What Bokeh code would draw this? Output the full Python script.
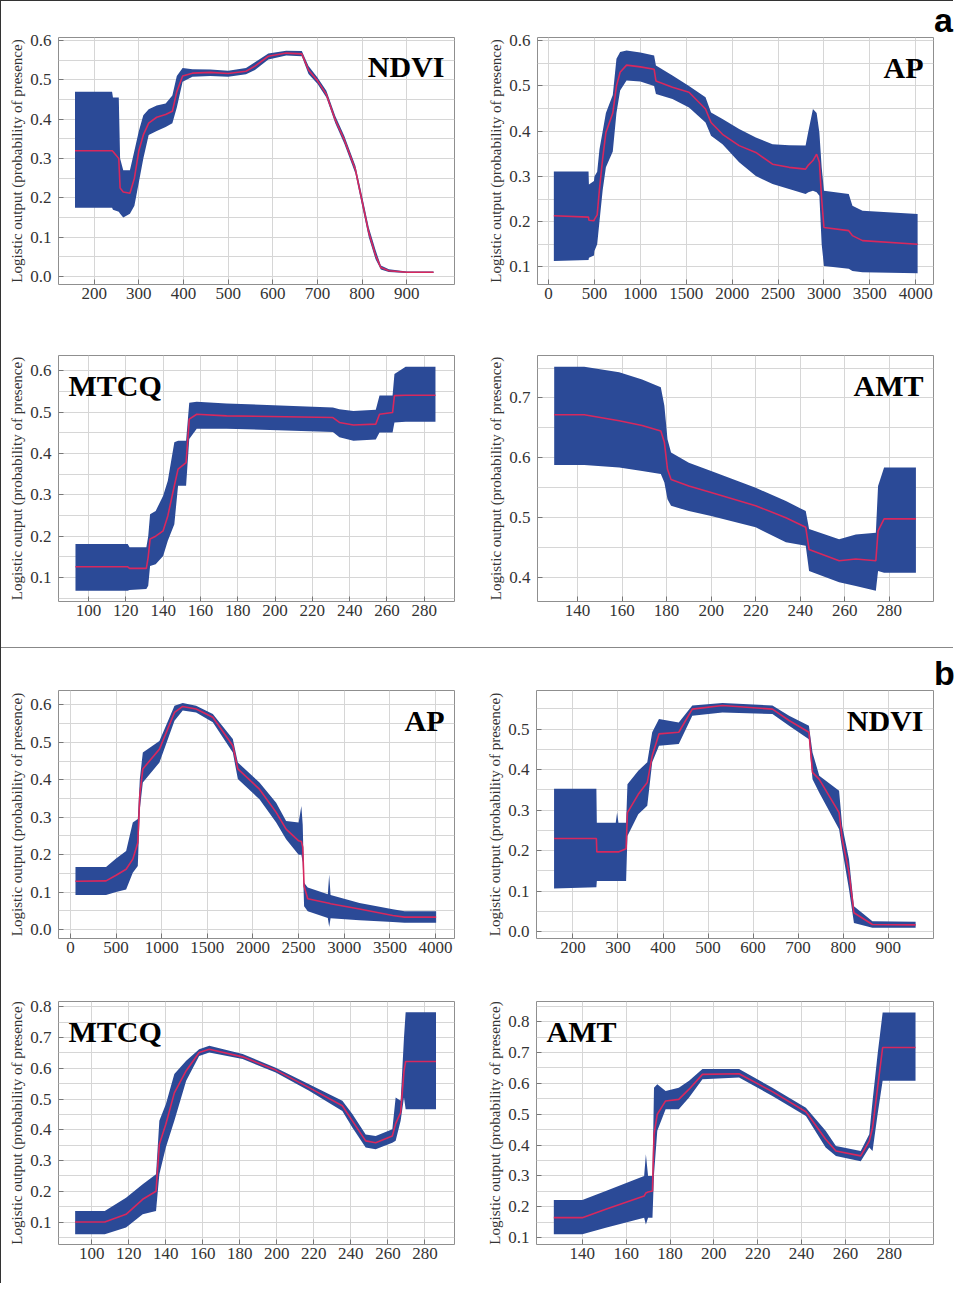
from bokeh.plotting import figure
from bokeh.models import (Range1d, FixedTicker, PrintfTickFormatter, Label,
                          Spacer, ColumnDataSource, Div)
from bokeh.layouts import row, column
from bokeh.embed import file_html
from bokeh.resources import INLINE

# ------------------------------------------------------------------ data
# Panel a — NDVI
A_NDVI_X = [157, 240, 242, 255, 258, 265, 280, 290, 300, 310, 322, 340, 360, 375, 385, 398,
            420, 460, 500, 540, 560, 590, 630, 665, 680, 700, 720, 740, 760, 785, 800, 815,
            830, 842, 860, 900, 960]
A_NDVI_LO = [0.175, 0.175, 0.170, 0.165, 0.160, 0.150, 0.160, 0.180, 0.240, 0.300, 0.360, 0.370,
             0.380, 0.390, 0.430, 0.495, 0.508, 0.510, 0.508, 0.514, 0.525, 0.552, 0.562, 0.560,
             0.515, 0.490, 0.455, 0.390, 0.338, 0.262, 0.180, 0.100, 0.045, 0.018, 0.012, 0.009,
             0.009]
A_NDVI_MID = [0.320, 0.320, 0.318, 0.300, 0.225, 0.215, 0.212, 0.250, 0.320, 0.360, 0.390, 0.405,
              0.412, 0.420, 0.470, 0.510, 0.517, 0.519, 0.516, 0.522, 0.535, 0.560, 0.568, 0.566,
              0.525, 0.498, 0.463, 0.398, 0.348, 0.272, 0.192, 0.112, 0.055, 0.023, 0.015, 0.011,
              0.011]
A_NDVI_HI = [0.470, 0.470, 0.455, 0.455, 0.300, 0.270, 0.270, 0.320, 0.370, 0.410, 0.425, 0.435,
             0.440, 0.460, 0.510, 0.530, 0.527, 0.526, 0.523, 0.530, 0.545, 0.567, 0.574, 0.573,
             0.535, 0.506, 0.472, 0.408, 0.358, 0.282, 0.205, 0.125, 0.068, 0.028, 0.019, 0.013,
             0.013]

# Panel a — AP
A_AP_X = [58, 436, 440, 495, 500, 530, 555, 590, 625, 700, 740, 780, 850, 1000, 1150, 1170,
          1350, 1530, 1710, 1770, 1895, 2076, 2258, 2440, 2620, 2800, 2830, 2880, 2920, 2950,
          2975, 3000, 3270, 3310, 3420, 4020]
A_AP_LO = [0.113, 0.115, 0.120, 0.125, 0.135, 0.150, 0.200, 0.270, 0.320, 0.355, 0.440, 0.490,
           0.512, 0.510, 0.500, 0.482, 0.471, 0.452, 0.419, 0.390, 0.371, 0.331, 0.301, 0.283,
           0.272, 0.261, 0.265, 0.268, 0.265, 0.257, 0.150, 0.102, 0.096, 0.091, 0.088, 0.086]
A_AP_MID = [0.213, 0.210, 0.203, 0.202, 0.205, 0.215, 0.272, 0.340, 0.397, 0.440, 0.500, 0.530,
            0.546, 0.542, 0.537, 0.511, 0.497, 0.486, 0.449, 0.419, 0.393, 0.368, 0.353, 0.327,
            0.320, 0.316, 0.325, 0.335, 0.349, 0.331, 0.250, 0.187, 0.180, 0.169, 0.158, 0.150]
A_AP_HI = [0.311, 0.311, 0.282, 0.290, 0.300, 0.310, 0.360, 0.400, 0.440, 0.480, 0.560, 0.575,
           0.578, 0.574, 0.567, 0.545, 0.523, 0.500, 0.475, 0.441, 0.427, 0.405, 0.386, 0.371,
           0.369, 0.368, 0.400, 0.449, 0.440, 0.397, 0.320, 0.268, 0.261, 0.235, 0.224, 0.217]

# Panel a — MTCQ
A_MTCQ_X = [93, 121, 122, 131, 132, 133, 136, 140, 142.5, 146, 148, 152.3, 154, 158, 174, 231,
            234.5, 242, 254, 256, 263, 264, 270, 286]
A_MTCQ_LO = [0.068, 0.068, 0.070, 0.072, 0.080, 0.128, 0.132, 0.152, 0.189, 0.229, 0.322, 0.322,
             0.435, 0.460, 0.460, 0.452, 0.439, 0.431, 0.434, 0.451, 0.451, 0.475, 0.477, 0.477]
A_MTCQ_MID = [0.126, 0.126, 0.122, 0.122, 0.150, 0.193, 0.200, 0.213, 0.249, 0.322, 0.362, 0.378,
              0.483, 0.495, 0.491, 0.487, 0.475, 0.469, 0.471, 0.495, 0.499, 0.540, 0.541, 0.541]
A_MTCQ_HI = [0.181, 0.181, 0.173, 0.173, 0.200, 0.253, 0.261, 0.298, 0.334, 0.427, 0.431, 0.431,
             0.523, 0.525, 0.521, 0.511, 0.507, 0.503, 0.506, 0.540, 0.540, 0.592, 0.610, 0.610]

# Panel a — AMT
A_AMT_X = [129.5, 143, 158.7, 169, 177.4, 179, 180.4, 182, 190, 200, 220, 233.6, 242.5, 244,
           257.5, 265, 274, 275, 277.7, 292]
A_AMT_LO = [0.588, 0.588, 0.584, 0.578, 0.573, 0.559, 0.531, 0.520, 0.511, 0.503, 0.484, 0.459,
            0.453, 0.411, 0.392, 0.386, 0.378, 0.411, 0.408, 0.408]
A_AMT_MID = [0.672, 0.672, 0.662, 0.654, 0.645, 0.626, 0.581, 0.564, 0.553, 0.542, 0.520, 0.500,
             0.484, 0.447, 0.428, 0.431, 0.428, 0.478, 0.498, 0.498]
A_AMT_HI = [0.752, 0.752, 0.743, 0.731, 0.718, 0.687, 0.631, 0.609, 0.592, 0.578, 0.550, 0.528,
            0.511, 0.481, 0.464, 0.472, 0.475, 0.553, 0.584, 0.584]

# Panel b — AP
B_AP_X = [55, 390, 500, 610, 683, 738, 760, 793, 975, 1140, 1230, 1377, 1560, 1779, 1834, 2071,
          2254, 2363, 2500, 2530, 2545, 2560, 2600, 2820, 2835, 2850, 3167, 3532, 3660, 4007]
B_AP_LO = [0.092, 0.092, 0.100, 0.107, 0.152, 0.170, 0.321, 0.393, 0.446, 0.558, 0.585, 0.580,
           0.554, 0.473, 0.402, 0.348, 0.286, 0.241, 0.200, 0.200, 0.180, 0.062, 0.049, 0.031,
           0.007, 0.030, 0.025, 0.020, 0.018, 0.018]
B_AP_MID = [0.129, 0.130, 0.145, 0.161, 0.188, 0.232, 0.360, 0.429, 0.482, 0.580, 0.596, 0.589,
            0.567, 0.491, 0.429, 0.375, 0.313, 0.268, 0.237, 0.235, 0.220, 0.116, 0.082, 0.071,
            0.070, 0.069, 0.055, 0.0375, 0.033, 0.033]
B_AP_HI = [0.167, 0.167, 0.190, 0.210, 0.286, 0.295, 0.402, 0.473, 0.504, 0.598, 0.605, 0.598,
           0.576, 0.509, 0.446, 0.393, 0.339, 0.290, 0.286, 0.330, 0.280, 0.125, 0.112, 0.094,
           0.147, 0.092, 0.071, 0.054, 0.049, 0.049]

# Panel b — NDVI
B_NDVI_X = [158, 252, 253, 295, 298, 301, 318, 321, 345, 365, 376, 391, 435, 465, 532, 643, 680,
            724, 732, 747, 791, 798, 813, 824, 865, 961]
B_NDVI_LO = [0.107, 0.110, 0.125, 0.125, 0.125, 0.125, 0.125, 0.236, 0.290, 0.311, 0.418, 0.459,
             0.463, 0.533, 0.541, 0.537, 0.508, 0.475, 0.376, 0.343, 0.253, 0.203, 0.105, 0.022,
             0.010, 0.010]
B_NDVI_MID = [0.230, 0.230, 0.197, 0.197, 0.197, 0.197, 0.205, 0.294, 0.339, 0.368, 0.434, 0.488,
              0.492, 0.549, 0.558, 0.549, 0.521, 0.492, 0.393, 0.376, 0.294, 0.228, 0.146, 0.047,
              0.018, 0.017]
B_NDVI_HI = [0.353, 0.353, 0.269, 0.269, 0.294, 0.269, 0.269, 0.364, 0.397, 0.418, 0.492, 0.525,
             0.516, 0.558, 0.564, 0.558, 0.533, 0.508, 0.442, 0.385, 0.348, 0.261, 0.179, 0.063,
             0.026, 0.025]

# Panel b — MTCQ
B_MTCQ_X = [91, 107, 118.5, 127.5, 134.7, 136.5, 140, 144.6, 151, 158, 163.5, 181.5, 199.4,
            217.4, 235.4, 240.8, 248, 253.4, 262.4, 264.2, 266.9, 268.7, 269.6, 286]
B_MTCQ_LO = [0.060, 0.060, 0.082, 0.125, 0.136, 0.255, 0.342, 0.429, 0.559, 0.640, 0.651, 0.630,
             0.586, 0.527, 0.461, 0.407, 0.342, 0.337, 0.358, 0.364, 0.429, 0.505, 0.467, 0.467]
B_MTCQ_MID = [0.100, 0.100, 0.125, 0.174, 0.200, 0.353, 0.418, 0.520, 0.592, 0.651, 0.662, 0.637,
              0.594, 0.537, 0.478, 0.429, 0.364, 0.358, 0.380, 0.420, 0.456, 0.590, 0.622, 0.622]
B_MTCQ_HI = [0.136, 0.136, 0.179, 0.223, 0.255, 0.429, 0.483, 0.581, 0.624, 0.662, 0.673, 0.646,
             0.602, 0.548, 0.494, 0.451, 0.385, 0.380, 0.402, 0.505, 0.494, 0.700, 0.782, 0.782]

# Panel b — AMT
B_AMT_X = [127, 140, 150.7, 168.2, 169, 170, 172, 172.7, 174.2, 178, 184, 188.7, 194.8, 211.5,
           226.7, 242, 251, 255.7, 267, 270.9, 272.4, 274.7, 277, 292]
B_AMT_LO = [0.111, 0.111, 0.132, 0.165, 0.143, 0.165, 0.165, 0.305, 0.446, 0.516, 0.516, 0.554,
            0.613, 0.619, 0.559, 0.494, 0.392, 0.365, 0.348, 0.392, 0.381, 0.500, 0.608, 0.608]
B_AMT_MID = [0.165, 0.165, 0.192, 0.235, 0.245, 0.248, 0.251, 0.435, 0.500, 0.543, 0.548, 0.581,
             0.629, 0.631, 0.573, 0.508, 0.419, 0.381, 0.365, 0.413, 0.456, 0.586, 0.716, 0.716]
B_AMT_HI = [0.222, 0.222, 0.251, 0.300, 0.370, 0.300, 0.300, 0.586, 0.597, 0.575, 0.586, 0.608,
            0.646, 0.646, 0.586, 0.521, 0.446, 0.397, 0.381, 0.435, 0.543, 0.694, 0.829, 0.829]

# tick labels
NDVI_XTICKS = [200, 300, 400, 500, 600, 700, 800, 900]
AP_XTICKS = [0, 500, 1000, 1500, 2000, 2500, 3000, 3500, 4000]
MTCQ_XTICKS = [100, 120, 140, 160, 180, 200, 220, 240, 260, 280]
AMT_XTICKS = [140, 160, 180, 200, 220, 240, 260, 280]
A_NDVI_YTICKS = [0.0, 0.1, 0.2, 0.3, 0.4, 0.5, 0.6]
A_AP_YTICKS = [0.1, 0.2, 0.3, 0.4, 0.5, 0.6]
A_MTCQ_YTICKS = [0.1, 0.2, 0.3, 0.4, 0.5, 0.6]
A_AMT_YTICKS = [0.4, 0.5, 0.6, 0.7]
B_AP_YTICKS = [0.0, 0.1, 0.2, 0.3, 0.4, 0.5, 0.6]
B_NDVI_YTICKS = [0.0, 0.1, 0.2, 0.3, 0.4, 0.5]
B_MTCQ_YTICKS = [0.1, 0.2, 0.3, 0.4, 0.5, 0.6, 0.7, 0.8]
B_AMT_YTICKS = [0.1, 0.2, 0.3, 0.4, 0.5, 0.6, 0.7, 0.8]

Y_LABEL = "Logistic output (probability of presence)"

# ------------------------------------------------------------------ style
BAND = "#2b4a97"
LINE = "#d8285e"
GRID = "#d6d6d6"
SERIF = "Liberation Serif"
TXT = "#333333"


def panel(xs, lo, mid, hi, name, xticks, yticks, xr, yr, w, h, borders, name_left):
    bl, br, bt, bb = borders
    p = figure(width=w, height=h, x_range=Range1d(*xr), y_range=Range1d(*yr),
               output_backend="svg", toolbar_location=None,
               min_border_left=bl, min_border_right=br, min_border_top=bt,
               min_border_bottom=bb, outline_line_color="#8f8f8f",
               background_fill_color="white", border_fill_color="white")
    src = ColumnDataSource(dict(x=xs, lo=lo, mid=mid, hi=hi))
    p.varea(x="x", y1="lo", y2="hi", source=src, fill_color=BAND)
    p.line(x="x", y="mid", source=src, line_color=LINE, line_width=1.6)

    step = yticks[1] - yticks[0]
    yminor = [round(t + step / 2, 3) for t in yticks] + [round(yticks[0] - step / 2, 3)]
    p.xaxis.ticker = FixedTicker(ticks=xticks)
    p.yaxis.ticker = FixedTicker(ticks=yticks, minor_ticks=yminor)
    p.xaxis.formatter = PrintfTickFormatter(format="%d")
    p.yaxis.formatter = PrintfTickFormatter(format="%.1f")
    for ax in (p.xaxis[0], p.yaxis[0]):
        ax.axis_line_color = None
        ax.major_tick_in = 5
        ax.major_tick_out = 0
        ax.major_tick_line_color = "#777777"
        ax.minor_tick_line_color = None
        ax.major_label_text_font = SERIF
        ax.major_label_text_font_size = "17px"
        ax.major_label_text_color = TXT
        ax.major_label_standoff = 3
    p.yaxis.axis_label = Y_LABEL
    p.yaxis.axis_label_text_font = SERIF
    p.yaxis.axis_label_text_font_size = "15px"
    p.yaxis.axis_label_text_font_style = "normal"
    p.yaxis.axis_label_text_color = TXT
    p.yaxis.axis_label_standoff = 2
    p.xgrid.grid_line_color = GRID
    p.ygrid.grid_line_color = GRID
    p.ygrid.minor_grid_line_color = GRID

    fw = w - bl - br
    fh = h - bt - bb
    if name_left:
        lab = Label(x=10, y=fh - 30, x_units="screen", y_units="screen", text=name,
                    text_align="left", text_baseline="alphabetic")
    else:
        lab = Label(x=fw - 10, y=fh - 30, x_units="screen", y_units="screen", text=name,
                    text_align="right", text_baseline="alphabetic")
    lab.text_font = SERIF
    lab.text_font_style = "bold"
    lab.text_font_size = "30px"
    lab.text_color = "black"
    p.add_layout(lab)
    return p


def letter(ch, h, top):
    html = ('<div style="position:relative; top:%dpx; left:0px; font-family:\'Liberation Sans\';'
            ' font-weight:bold; font-size:34px; line-height:38px; color:#000;">%s</div>' % (top, ch))
    return Div(text=html, width=19, height=h, margin=0)


LW, RW = 471, 462

a1 = panel(A_NDVI_X, A_NDVI_LO, A_NDVI_MID, A_NDVI_HI, "NDVI", NDVI_XTICKS, A_NDVI_YTICKS,
           (120, 1007), (-0.020, 0.6076), LW, 326, (57, 18, 36, 42), False)
a2 = panel(A_AP_X, A_AP_LO, A_AP_MID, A_AP_HI, "AP", AP_XTICKS, A_AP_YTICKS,
           (-120, 4193), (0.061, 0.607), RW, 326, (65, 1, 36, 43), False)
a3 = panel(A_MTCQ_X, A_MTCQ_LO, A_MTCQ_MID, A_MTCQ_HI, "MTCQ", MTCQ_XTICKS, A_MTCQ_YTICKS,
           (83.9, 296.2), (0.042, 0.637), LW, 320, (57, 18, 28, 46), True)
a4 = panel(A_AMT_X, A_AMT_LO, A_AMT_MID, A_AMT_HI, "AMT", AMT_XTICKS, A_AMT_YTICKS,
           (122.0, 299.9), (0.360, 0.771), RW, 320, (65, 1, 28, 46), False)
b1 = panel(B_AP_X, B_AP_LO, B_AP_MID, B_AP_HI, "AP", AP_XTICKS, B_AP_YTICKS,
           (-131, 4208), (-0.024, 0.6386), LW, 324, (57, 18, 42, 34), False)
b2 = panel(B_NDVI_X, B_NDVI_LO, B_NDVI_MID, B_NDVI_HI, "NDVI", NDVI_XTICKS, B_NDVI_YTICKS,
           (119, 1000.7), (-0.0165, 0.595), RW, 324, (64, 1, 42, 34), False)
b3 = panel(B_MTCQ_X, B_MTCQ_LO, B_MTCQ_MID, B_MTCQ_HI, "MTCQ", MTCQ_XTICKS, B_MTCQ_YTICKS,
           (82, 296), (0.027, 0.817), LW, 311, (57, 18, 29, 39), True)
b4 = panel(B_AMT_X, B_AMT_LO, B_AMT_MID, B_AMT_HI, "AMT", AMT_XTICKS, B_AMT_YTICKS,
           (119.1, 300.2), (0.078, 0.865), RW, 311, (64, 1, 29, 39), True)

let_a = letter("a", 326, 0)
let_b = letter("b", 324, 6)
pad1 = Spacer(width=19, height=320)
pad2 = Spacer(width=19, height=311)

TOTAL_W = LW + RW + 19
top_line = Spacer(width=TOTAL_W, height=1, styles={"background-color": "#333333"})
sep_line = Spacer(width=TOTAL_W, height=1, styles={"background-color": "#888888"})
left_line = Spacer(width=1, height=1283, styles={"background-color": "#333333"})

body = column(top_line, row(a1, a2, let_a), row(a3, a4, pad1), sep_line,
              row(b1, b2, let_b), row(b3, b4, pad2))
root = row(left_line, body)

open("out.html", "w").write(file_html(root, INLINE))
